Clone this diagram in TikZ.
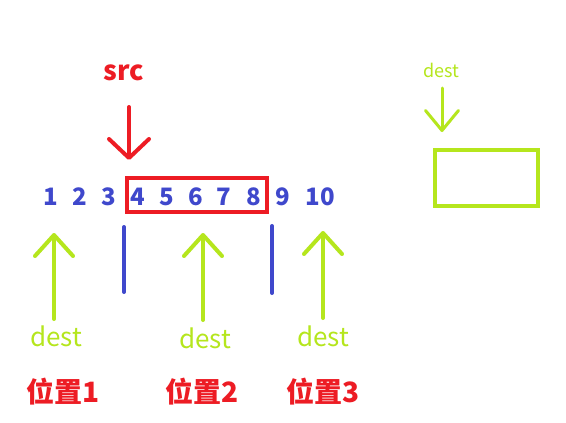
\documentclass[tikz,border=0pt]{standalone}
\usepackage{fontspec}
\setmainfont{Noto Sans CJK SC}
\usetikzlibrary{arrows.meta}
\definecolor{pred}{HTML}{ED1C24}
\definecolor{pblue}{HTML}{3F48CC}
\definecolor{plime}{HTML}{B5E61D}
\begin{document}
\begin{tikzpicture}[x=1pt,y=-1pt,
  num/.style={text=pblue, font=\bfseries\fontsize{24}{24}\selectfont, inner sep=0pt, anchor=base},
  destlbl/.style={text=plime, font=\fontsize{26}{26}\selectfont, inner sep=0pt, anchor=base},
  poslbl/.style={text=pred, font=\bfseries\fontsize{28}{28}\selectfont, inner sep=0pt, anchor=base},
  garrow/.style={draw=plime, line width=4pt, line cap=round, -{Straight Barb[length=21pt,width=38pt,round]}},
  rarrow/.style={draw=pred, line width=4pt, line cap=round, -{Straight Barb[length=19pt,width=40pt,round]}},
  sarrow/.style={draw=plime, line width=3pt, line cap=round, -{Straight Barb[length=20pt,width=33pt,round]}},
  divider/.style={draw=pblue, line width=4pt, line cap=round}]
\useasboundingbox (0,0) rectangle (566,423);
\fill[white] (0,0) rectangle (566,423);

% numbers
\node[num] (n1) at (51,205) {1};
\node[num] (n2) at (80,205) {2};
\node[num] (n3) at (109,205) {3};
\node[num] (n4) at (138,205) {4};
\node[num] (n5) at (167,205) {5};
\node[num] (n6) at (196,205) {6};
\node[num] (n7) at (224,205) {7};
\node[num] (n8) at (254,205) {8};
\node[num] (n9) at (283,205) {9};
\node[num] (n10) at (320,205) {10};

% src box
\node[draw=pred, line width=4pt, minimum width=140pt, minimum height=34pt, inner sep=0pt] (box) at (197,195) {};

% src label and arrow
\node[text=pred, font=\bfseries\fontsize{27}{27}\selectfont, inner sep=0pt, anchor=base] (src) at (124,80) {src};
\coordinate (srcTop) at (129,107);
\coordinate (srcTip) at (129,160);
\draw[rarrow] (srcTop) -- (srcTip);

% dividers
\coordinate (d1a) at (124,227);
\coordinate (d1b) at (124,292);
\coordinate (d2a) at (272,226);
\coordinate (d2b) at (272,293);
\draw[divider] (d1a) -- (d1b);
\draw[divider] (d2a) -- (d2b);

% dest labels and arrows
\node[destlbl] (dest1) at (56,346) {dest};
\node[destlbl] (dest2) at (205,348) {dest};
\node[destlbl] (dest3) at (323,346) {dest};
\coordinate (g1b) at (54,319);
\coordinate (g1t) at (54,233);
\coordinate (g2b) at (203,320);
\coordinate (g2t) at (203,233);
\coordinate (g3b) at (323,318);
\coordinate (g3t) at (323,231);
\draw[garrow] (g1b) -- (g1t);
\draw[garrow] (g2b) -- (g2t);
\draw[garrow] (g3b) -- (g3t);

% position labels
\node[poslbl] (p1) at (63,402) {位置1};
\node[poslbl] (p2) at (202,402) {位置2};
\node[poslbl] (p3) at (323,402) {位置3};

% top-right dest box
\node[text=plime, font=\fontsize{18}{18}\selectfont, inner sep=0pt, anchor=base] (sdest) at (441,77) {dest};
\coordinate (sTop) at (442,88);
\coordinate (sTip) at (442,132);
\draw[sarrow] (sTop) -- (sTip);
\node[draw=plime, line width=4pt, minimum width=103pt, minimum height=56pt, inner sep=0pt] (dbox) at (486.5,178) {};
\end{tikzpicture}
\end{document}
